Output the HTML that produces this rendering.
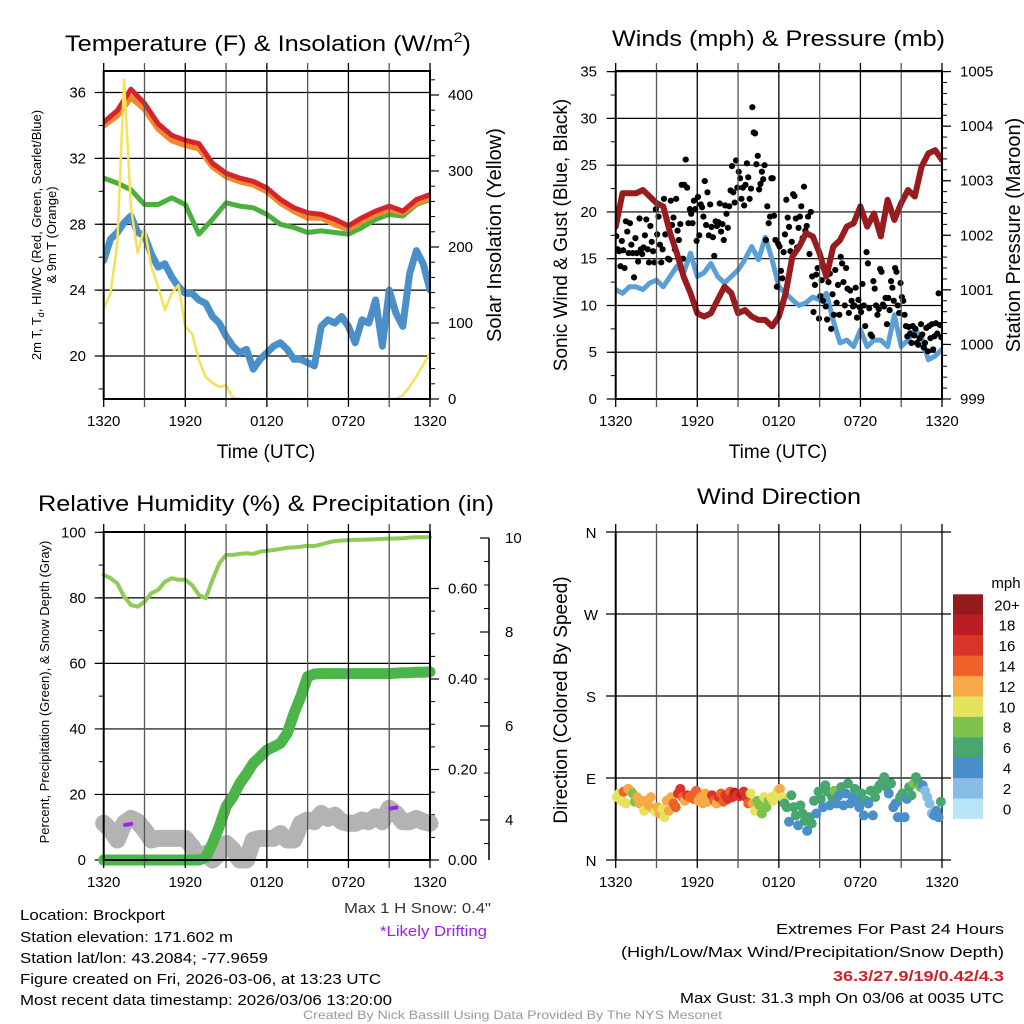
<!DOCTYPE html>
<html><head><meta charset="utf-8"><style>
html,body{margin:0;padding:0;background:#fff;}
svg{display:block;font-family:"Liberation Sans",sans-serif;}
</style></head><body>
<svg id="c" width="1024" height="1024" viewBox="0 0 1024 1024" xmlns="http://www.w3.org/2000/svg">
<defs>
<clipPath id="cpTL"><rect x="103.7" y="71" width="326.3" height="328"/></clipPath>
<clipPath id="cpTR"><rect x="615.7" y="71" width="326.3" height="328"/></clipPath>
<clipPath id="cpBL"><rect x="95" y="525" width="345" height="345"/></clipPath>
<clipPath id="cpBR"><rect x="610" y="525" width="340" height="345"/></clipPath>
</defs>
<g id="gTL"></g>
<g id="gTR"></g>
<g id="gBL"></g>
<g id="gBR"></g>

<text x="65" y="51" font-size="22" textLength="406" lengthAdjust="spacingAndGlyphs">Temperature (F) &amp; Insolation (W/m<tspan font-size="14" dy="-9">2</tspan><tspan dy="9">)</tspan></text>
<text x="612" y="46" font-size="22" textLength="333" lengthAdjust="spacingAndGlyphs">Winds (mph) &amp; Pressure (mb)</text>
<text x="38" y="511" font-size="22" textLength="456" lengthAdjust="spacingAndGlyphs">Relative Humidity (%) &amp; Precipitation (in)</text>
<text x="697" y="504" font-size="22" textLength="164" lengthAdjust="spacingAndGlyphs">Wind Direction</text>

<text x="266" y="458" font-size="19" text-anchor="middle">Time (UTC)</text>
<text x="778" y="458" font-size="19" text-anchor="middle">Time (UTC)</text>

<text transform="translate(41,235) rotate(-90)" font-size="13" text-anchor="middle">2m T, T<tspan font-size="9" dy="3">d</tspan><tspan dy="-3">, HI/WC (Red, Green, Scarlet/Blue)</tspan></text>
<text transform="translate(56,235) rotate(-90)" font-size="13" text-anchor="middle">&amp; 9m T (Orange)</text>
<text transform="translate(501,235) rotate(-90)" font-size="20" text-anchor="middle">Solar Insolation (Yellow)</text>
<text transform="translate(567,235) rotate(-90)" font-size="19" text-anchor="middle">Sonic Wind &amp; Gust (Blue, Black)</text>
<text transform="translate(1020,235) rotate(-90)" font-size="20" text-anchor="middle">Station Pressure (Maroon)</text>
<text transform="translate(49,692) rotate(-90)" font-size="13" text-anchor="middle">Percent, Precipitation (Green), &amp; Snow Depth (Gray)</text>
<text transform="translate(567,700) rotate(-90)" font-size="19" text-anchor="middle">Direction (Colored By Speed)</text>
<text x="1006" y="588" font-size="15" text-anchor="middle">mph</text>

<g font-size="15">
<text x="20" y="920" textLength="145" lengthAdjust="spacingAndGlyphs">Location: Brockport</text>
<text x="20" y="942" textLength="213" lengthAdjust="spacingAndGlyphs">Station elevation: 171.602 m</text>
<text x="20" y="963" textLength="248" lengthAdjust="spacingAndGlyphs">Station lat/lon: 43.2084; -77.9659</text>
<text x="20" y="984" textLength="361" lengthAdjust="spacingAndGlyphs">Figure created on Fri, 2026-03-06, at 13:23 UTC</text>
<text x="20" y="1005" textLength="372" lengthAdjust="spacingAndGlyphs">Most recent data timestamp: 2026/03/06 13:20:00</text>
</g>
<text x="344" y="913" font-size="15" fill="#333" textLength="147" lengthAdjust="spacingAndGlyphs">Max 1 H Snow: 0.4"</text>
<text x="380" y="936" font-size="15" fill="#a020f0" textLength="107" lengthAdjust="spacingAndGlyphs">*Likely Drifting</text>
<text x="776" y="934" font-size="15" textLength="228" lengthAdjust="spacingAndGlyphs">Extremes For Past 24 Hours</text>
<text x="621" y="957" font-size="15" textLength="383" lengthAdjust="spacingAndGlyphs">(High/Low/Max Wind/Precipitation/Snow Depth)</text>
<text x="833" y="981" font-size="15" font-weight="bold" fill="#d0202a" textLength="171" lengthAdjust="spacingAndGlyphs">36.3/27.9/19/0.42/4.3</text>
<text x="680" y="1003" font-size="15" textLength="324" lengthAdjust="spacingAndGlyphs">Max Gust: 31.3 mph On 03/06 at 0035 UTC</text>
<text x="303" y="1019" font-size="12" fill="#999" textLength="419" lengthAdjust="spacingAndGlyphs">Created By Nick Bassill Using Data Provided By The NYS Mesonet</text>
</svg>
<script>
// ---- data (time in hours since 1320 UTC) ----
const hourTimes = [0,1,2,3,4,5,6,7,8,9,10,11,12,13,14,15,16,17,18,19,20,21,22,23,24];
const halfTimes = [0,0.5,1,1.5,2,2.5,3,3.5,4,4.5,5,5.5,6,6.5,7,7.5,8,8.5,9,9.5,10,10.5,11,11.5,12,12.5,13,13.5,14,14.5,15,15.5,16,16.5,17,17.5,18,18.5,19,19.5,20,20.5,21,21.5,22,22.5,23,23.5,24];
const xTickLabels = ["1320","1920","0120","0720","1320"];
const tempRed = [34.2,34.9,36.2,35.35,34.1,33.4,33.1,32.9,31.7,31.1,30.8,30.6,30.2,29.5,29.0,28.7,28.6,28.3,27.9,28.4,28.8,29.1,28.8,29.5,29.8];
const temp9mOrange = [34.0,34.6,35.7,35.0,33.8,33.1,32.8,32.6,31.5,30.9,30.6,30.4,30.0,29.3,28.8,28.4,28.4,28.0,27.7,28.2,28.6,28.9,28.7,29.3,29.6];
const tempGreen = [30.8,30.5,30.1,29.2,29.2,29.6,29.2,27.4,28.3,29.3,29.1,29.0,28.6,28.0,27.8,27.5,27.6,27.5,27.4,27.8,28.3,28.6,28.5,29.2,29.5];
const tempBlue = [25.8,27.1,27.5,28.1,28.5,27.5,27.3,26.2,25.4,25.6,24.8,24.2,23.8,23.8,23.4,23.2,22.4,22.0,21.2,20.6,20.2,20.4,19.2,19.8,20.2,20.6,20.8,20.4,19.8,19.8,19.6,19.4,21.8,22.2,22.0,22.4,21.8,20.8,22.2,22.0,23.4,20.6,24.0,22.6,21.8,25.0,26.4,25.6,24.0];
const solar = [119,139,205,420,253,192,226,174,148,117,139,150,95,86,51,29,21,16,18,2,0,0,0,0,0,0,0,0,0,0,0,0,0,0,0,0,0,0,0,0,0,0,0,0,5,16,30,45,60];
const tempTicks = [20,24,28,32,36];
const solarTicks = [0,100,200,300,400];

const windSpeed = [11.7,11.3,12.0,12.0,11.7,12.4,12.7,12.0,13.1,14.2,13.5,15.6,13.1,13.5,14.5,13.1,12.4,13.1,13.8,14.9,16.3,14.9,17.3,14.9,12.0,11.3,10.6,10.0,10.3,10.9,10.6,11.3,8.4,6.0,6.3,5.6,7.4,5.6,6.3,6.3,5.6,9.0,5.6,6.3,7.4,6.6,4.2,4.6,5.3];
const pressure = [1002.16,1002.77,1002.77,1002.77,1002.83,1002.71,1002.59,1002.53,1002.04,1001.67,1001.24,1000.94,1000.57,1000.51,1000.57,1000.82,1001.06,1000.94,1000.57,1000.63,1000.51,1000.45,1000.45,1000.33,1000.51,1000.94,1001.61,1001.79,1002.04,1001.98,1001.67,1001.24,1001.79,1001.91,1002.16,1002.22,1002.53,1002.16,1002.40,1001.98,1002.65,1002.28,1002.59,1002.83,1002.71,1003.26,1003.50,1003.56,1003.38];
const gusts = [17.4,16.0,15.8,14.2,16.9, 15.9,14.0,19.0,17.9,15.6, 18.8,16.5,15.6,13.0,17.2, 15.6,14.7,19.3,16.0,15.5, 16.2,17.5,19.2,16.0,14.6, 18.5,16.8,15.8,14.6,20.3, 17.6,19.5,16.5,14.6,16.0, 21.4,17.6,19.2,15.0,14.9, 21.2,18.6,19.4,16.0,21.4, 18.0,17.0,18.7,22.9,15.0, 22.9,25.6,22.6,18.8,20.3, 19.8,18.8,21.2,20.3,16.9, 21.6,17.5,20.8,20.5,19.5, 23.3,18.6,22.1,17.5,20.8, 18.4,17.3,15.3,19.0,18.5, 18.9,20.9,17.9,18.7,17.0, 20.7,19.8,18.3,20.6,22.3, 24.9,22.1,21.0,25.5,22.6, 24.3,23.6,21.4,22.6,20.7, 22.9,25.2,23.7,21.4,22.5, 31.2,28.5,28.4,25.1,26.0, 22.4,23.0,24.3,23.5,25.0, 17.0,20.6,18.8,19.5,23.6, 23.6,19.6,17.0,12.0,16.6, 16.3,13.7,12.9,15.7,17.6, 21.3,19.4,18.4,15.8,16.8, 21.9,21.7,19.3,16.2,18.3, 19.5,20.6,17.2,22.7,18.0, 18.5,19.5,15.5,20.0,13.1, 9.3,12.2,13.3,14.0,8.6, 11.0,12.7,10.5,13.8,9.9, 8.5,12.5,13.4,7.5,11.2, 9.0,13.8,10.3,12.2,9.0, 15.2,14.5,12.5,10.0,14.0, 11.8,9.2,11.6,10.5,9.9, 10.0,11.9,8.7,10.6,9.8, 9.3,12.3,10.0,7.8,15.7, 14.5,9.7,6.9,6.7,12.6, 11.8,10.0,9.0,9.6,13.9, 13.6,10.1,9.9,10.8,8.0, 10.8,9.5,12.6,11.9,10.5, 14.0,13.6,10.0,9.2,12.4, 10.9,10.5,9.0,7.8,6.7, 7.7,7.0,6.0,7.8,6.8, 7.5,6.0,5.8,6.5,8.0, 6.9,5.5,6.0,7.6,5.1, 7.8,6.5,8.0,5.3,6.7, 8.1,7.0,11.3,7.9,6.6];
const windTicks = [0,5,10,15,20,25,30,35];
const pressureTicks = [999,1000,1001,1002,1003,1004,1005];

const rh = [87.0,86.0,84.4,80.4,77.8,77.3,78.8,81.4,82.4,84.9,86.0,85.5,85.5,83.9,80.9,79.9,85.5,90.5,93.1,93.1,93.4,93.6,93.4,94.1,94.4,94.6,94.9,95.3,95.4,95.6,95.9,95.8,96.3,96.9,97.3,97.5,97.6,97.7,97.7,97.8,97.9,98.0,98.1,98.1,98.2,98.4,98.5,98.5,98.5];
const precip = [0,0,0,0,0,0,0,0,0,0,0,0,0,0,0,0.005,0.037,0.074,0.118,0.14,0.169,0.19,0.214,0.228,0.243,0.25,0.258,0.28,0.324,0.361,0.405,0.411,0.412,0.412,0.412,0.412,0.412,0.412,0.412,0.412,0.412,0.412,0.412,0.413,0.414,0.414,0.415,0.415,0.416];
const snowDepth = [11.2,9.2,6.1,11.2,12.7,11.7,9.2,6.1,6.6,6.6,6.6,6.6,6.6,4.1,1.0,2.0,0,2.0,5.1,3.1,0,0,6.1,6.6,6.6,6.6,8.1,6.1,6.1,11.2,12.2,11.7,14.2,12.7,13.7,11.7,11.2,11.2,12.2,11.7,13.2,11.7,15.8,14.2,11.7,11.7,12.7,11.7,11.2];
const driftTimes = [1.8,21.3];
const driftValues = [11,16];
const rhTicks = [0,20,40,60,80,100];
const precipTicks = [0,0.2,0.4,0.6];
const precipTickLabels = ["0.00","0.20","0.40","0.60"];
const snowTicks = [4,6,8,10];

const dirGroups = [[69,73,65],[75,62,78],[76,73,64],[69,62,65],[54,65,60],[69,56,53],[58,51,56],[47,65,54],[69,62,58],[73,78,69],[65,71,69],[71,67,76],[65,69,62],[73,64,69],[71,65,62],[69,73,64],[71,67,75],[69,74,71],[70,72,75],[69,62,73],[62,54,65],[60,51,69],[58,65,69],[65,71,76],[78,69,62],[58,42,71],[58,49,38],[60,51,43],[32,47,40],[65,51,75],[67,58,82],[75,60,69],[76,62,71],[80,60,73],[84,62,69],[78,65,58],[73,49,65],[62,76,49],[69,78,82],[85,91,80],[73,84,58],[62,47,69],[73,47,67],[80,71,84],[91,85,80],[82,76,69],[62,51,49],[54,47,64]];
const spdGroups = [[11,10,10],[14,10,13],[12,9,8],[12,12,13],[10,12,12],[12,12,11],[12,12,11],[10,13,13],[13,14,14],[16,16,15],[12,16,14],[15,15,14],[12,13,12],[13,13,12],[16,14,12],[16,15,14],[17,16,15],[16,18,17],[16,18,17],[17,14,10],[12,10,8],[8,8,10],[8,9,10],[10,10,11],[12,10,6],[6,4,7],[6,6,5],[6,6,6],[4,6,6],[6,4,7],[6,4,7],[6,4,7],[8,4,4],[6,4,4],[7,4,4],[7,4,4],[6,4,6],[4,6,4],[6,6,7],[7,6,6],[4,7,4],[4,4,6],[6,4,4],[7,6,8],[6,6,8],[4,3,2],[2,3,4],[4,4,6]];
const dirTickLabels = ["N","E","S","W","N"];
const dirTicks = [0,90,180,270,360];
const speedLevels = ["0","2","4","6","8","10","12","14","16","18","20+"];
const speedColors = ["#b8e4f8","#86bce6","#4a8fc7","#48a66f","#7dc24b","#e5e25b","#f6a947","#ee6229","#da3328","#bc1d25","#951a1d"];

// ---- scales ----
const xL = t => 103.7 + t*13.596;
const xR = t => 615.7 + t*13.596;
const yT = v => 399 - (v-17.39)*16.47;
const ySol = w => 399 - w*0.76;
const yW = v => 399 - v*9.353;
const yP = p => 399 - (p-999)*54.57;
const yB = v => 860 - v*3.277;
const yPr = v => 860 - v*452.5;
const ySn = s => 820 - (s-4)*47;
const yD = d => 860 - d*0.9111;

const NS = "http://www.w3.org/2000/svg";
function mk(parent, tag, attrs){const e=document.createElementNS(NS,tag);for(const k in attrs)e.setAttribute(k,attrs[k]);parent.appendChild(e);return e;}
function pathD(xs, ys){return xs.map((x,i)=>(i?"L":"M")+x.toFixed(1)+","+ys[i].toFixed(1)).join("");}

function frame(g, x0, x1, y0, y1, xfn, name){
  for(let h=0; h<=24; h+=3){
    const l = mk(g,"line",{x1:xfn(h),x2:xfn(h),y1:y0-8,y2:y1+8,stroke:(h%6==0?"#000":"#555"),"stroke-width":1.3});
    
    
  }
  for(let i=0;i<xTickLabels.length;i++){
    const t = mk(g,"text",{x:xfn(i*6),y:y1+27,"font-size":15,"text-anchor":"middle"});
    t.textContent = xTickLabels[i];
    
    
  }
  const r = mk(g,"rect",{x:x0,y:y0,width:x1-x0,height:y1-y0,fill:"none",stroke:"#000","stroke-width":2});
  
  
}
function leftAxis(g, ticks, labels, yfn, x0, x1, minorStep, lo, hi, name, labelX){
  for(let v=lo; v<=hi+1e-9; v+=minorStep){
    const m = mk(g,"line",{x1:x0-5,x2:x0,y1:yfn(v),y2:yfn(v),stroke:"#000","stroke-width":1});
    
    
  }
  for(let i=0;i<ticks.length;i++){
    const y = yfn(ticks[i]);
    const gl = mk(g,"line",{x1:x0-9,x2:x1,y1:y,y2:y,stroke:"#000","stroke-width":1.2});
    
    
    const t = mk(g,"text",{x:labelX,y:y+5,"font-size":15,"text-anchor":"end"});
    t.textContent = labels[i];
    
    
  }
}
function rightAxis(g, ticks, labels, yfn, x, minorStep, lo, hi, name, labelX){
  for(let v=lo; v<=hi+1e-9; v+=minorStep){
    const m = mk(g,"line",{x1:x,x2:x+5,y1:yfn(v),y2:yfn(v),stroke:"#000","stroke-width":1});
    
    
  }
  for(let i=0;i<ticks.length;i++){
    const y = yfn(ticks[i]);
    const l = mk(g,"line",{x1:x,x2:x+9,y1:y,y2:y,stroke:"#000","stroke-width":1.2});
    
    
    const t = mk(g,"text",{x:labelX,y:y+5,"font-size":15});
    t.textContent = labels[i];
    
    
  }
}

// ---- Top-left: temperature ----
const gTL = document.getElementById('gTL');
leftAxis(gTL, tempTicks, tempTicks.map(String), yT, 103.7, 430, 2, 18, 36, 'temp', 86);
rightAxis(gTL, solarTicks, solarTicks.map(String), ySol, 430, 20, 0, 420, 'solar', 448);
const dTL = mk(gTL,"g",{"clip-path":"url(#cpTL)",fill:"none","stroke-linejoin":"round","stroke-linecap":"round"});


let p;
p = mk(dTL,"path",{d:pathD(halfTimes.map(xL),tempBlue.map(yT)),stroke:"#4a8fc7","stroke-width":7});


p = mk(dTL,"path",{d:pathD(hourTimes.map(xL),tempGreen.map(yT)),stroke:"#49b03e","stroke-width":5});


p = mk(dTL,"path",{d:pathD(hourTimes.map(xL),temp9mOrange.map(yT)),stroke:"#f08a30","stroke-width":6});


p = mk(dTL,"path",{d:pathD(hourTimes.map(xL),tempRed.map(yT)),stroke:"#d8232a","stroke-width":5});


p = mk(dTL,"path",{d:pathD(halfTimes.map(xL),solar.map(ySol)),stroke:"#f7e05a","stroke-width":2.5});


frame(gTL, 103.7, 430, 71, 399, xL, 'temp');

// ---- Top-right: wind ----
const gTR = document.getElementById('gTR');
leftAxis(gTR, windTicks, windTicks.map(String), yW, 615.7, 942, 2.5, 0, 35, 'wind', 597);
rightAxis(gTR, pressureTicks, pressureTicks.map(String), yP, 942, 0.2, 999, 1005, 'pressure', 960);
const dTR = mk(gTR,"g",{"clip-path":"url(#cpTR)",fill:"none","stroke-linejoin":"round","stroke-linecap":"round"});


p = mk(dTR,"path",{d:pathD(halfTimes.map(xR),windSpeed.map(yW)),stroke:"#5a9fd6","stroke-width":5});


for(let i=0;i<gusts.length;i++){
  const t = (i+0.5)*24/gusts.length;
  const c = mk(dTR,"circle",{cx:xR(t),cy:yW(gusts[i]),r:3.1,fill:"#000"});
  
  
}
p = mk(dTR,"path",{d:pathD(halfTimes.map(xR),pressure.map(yP)),stroke:"#981b1e","stroke-width":6});


frame(gTR, 615.7, 942, 71, 399, xR, 'wind');

// ---- Bottom-left: humidity / precip / snow ----
const gBL = document.getElementById('gBL');
leftAxis(gBL, rhTicks, rhTicks.map(String), yB, 103.7, 430, 10, 0, 100, 'rh', 86);
rightAxis(gBL, precipTicks, precipTickLabels, yPr, 430, 0.05, 0, 0.6, 'precip', 448);
const sa = mk(gBL,"line",{x1:489,x2:489,y1:ySn(10),y2:860,stroke:"#000","stroke-width":1.5});


for(let v=3.5; v<=10.01; v+=0.5){
  const m = mk(gBL,"line",{x1:484,x2:489,y1:ySn(v),y2:ySn(v),stroke:"#000","stroke-width":1});
  
  
}
for(let i=0;i<snowTicks.length;i++){
  const y = ySn(snowTicks[i]);
  const l = mk(gBL,"line",{x1:480,x2:489,y1:y,y2:y,stroke:"#000","stroke-width":1.2});
  
  
  const t = mk(gBL,"text",{x:505,y:y+5,"font-size":15});
  t.textContent = String(snowTicks[i]);
  
  
}
const dBL = mk(gBL,"g",{"clip-path":"url(#cpBL)",fill:"none","stroke-linejoin":"round","stroke-linecap":"round"});


p = mk(dBL,"path",{d:pathD(halfTimes.map(xL),snowDepth.map(yB)),stroke:"#b3b3b3","stroke-width":17});


for(let i=0;i<driftTimes.length;i++){
  const d = mk(dBL,"line",{x1:xL(driftTimes[i])-3,x2:xL(driftTimes[i])+3,y1:yB(driftValues[i])+1,y2:yB(driftValues[i]),stroke:"#a020f0","stroke-width":4});
  
  
}
p = mk(dBL,"path",{d:pathD(halfTimes.map(xL),precip.map(yPr)),stroke:"#4bb54a","stroke-width":11});


p = mk(dBL,"path",{d:pathD(halfTimes.map(xL),rh.map(yB)),stroke:"#8fcc55","stroke-width":4});


frame(gBL, 103.7, 430, 532, 860, xL, 'rh');

// ---- Bottom-right: wind direction ----
const gBR = document.getElementById('gBR');
for(let i=0;i<dirTicks.length;i++){
  const y = yD(dirTicks[i]);
  const l = mk(gBR,"line",{x1:606,x2:951,y1:y,y2:y,stroke:"#000","stroke-width":1.3});
  
  
  const t = mk(gBR,"text",{x:591,y:y+6,"font-size":15,"text-anchor":"middle"});
  t.textContent = dirTickLabels[i];
  
  
}
for(let h=0; h<=24; h+=3){
  const l = mk(gBR,"line",{x1:xR(h),x2:xR(h),y1:524,y2:868,stroke:(h%6==0?"#000":"#555"),"stroke-width":1.3});
  
  
}
const lv = mk(gBR,"line",{x1:615.7,x2:615.7,y1:532,y2:860,stroke:"#000","stroke-width":2});


for(let i=0;i<xTickLabels.length;i++){
  const t = mk(gBR,"text",{x:xR(i*6),y:887,"font-size":15,"text-anchor":"middle"});
  t.textContent = xTickLabels[i];
  
  
}
const dBR = mk(gBR,"g",{"clip-path":"url(#cpBR)"});


const nG = dirGroups.length;
for(let g=0; g<nG; g++){
  for(let k=0;k<dirGroups[g].length;k++){
    const t = (g + (k+0.5)/dirGroups[g].length)*24/nG;
    const s = spdGroups[g][k];
    const ci = Math.min(10, Math.floor(s/2));
    const c = mk(dBR,"circle",{cx:xR(t),cy:yD(dirGroups[g][k]),r:5,fill:speedColors[ci]});
    
    
  }
}
// colorbar
for(let i=0;i<speedLevels.length;i++){
  const y = 818.7 - (i+1)*20.4;
  const r = mk(gBR,"rect",{x:953,y:y,width:30,height:20.6,fill:speedColors[i]});
  
  
  const t = mk(gBR,"text",{x:1007,y:y+16,"font-size":15,"text-anchor":"middle"});
  t.textContent = speedLevels[i];
  
  
}
</script>
</body></html>
